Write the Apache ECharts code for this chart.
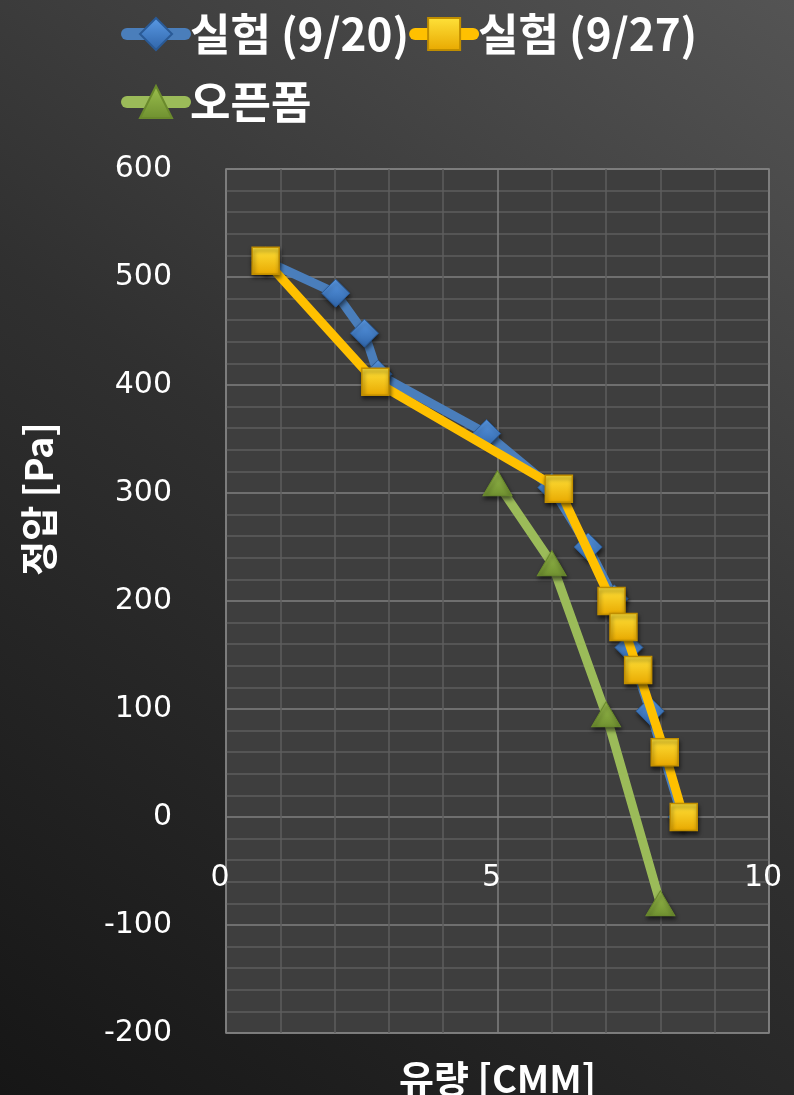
<!DOCTYPE html>
<html>
<head>
<meta charset="utf-8">
<script src="https://cdn.jsdelivr.net/npm/echarts@6/dist/echarts.min.js"></script>
<style>
html,body{margin:0;padding:0;background:#2a2a2a;}
#c{width:794px;height:1095px;}
</style>
</head>
<body>
<div id="c"></div>
<script>
// ---- data ----
const seriesNames = ['실험 (9/20)', '실험 (9/27)', '오픈폼'];
const flow0920 = [0.73, 2.02, 2.55, 2.8, 4.8, 6.0, 6.67, 7.15, 7.42, 7.81, 8.4];
const pres0920 = [515, 485, 448, 410, 355, 305, 250, 202, 157, 98, 0];
const flow0927 = [0.73, 2.75, 6.13, 7.1, 7.32, 7.59, 8.08, 8.43];
const pres0927 = [515, 403, 304, 200, 176, 136, 60, 0];
const flowOpen = [5.0, 6.0, 7.0, 8.0];
const presOpen = [309, 235, 95, -80];
const xTicks = [0, 5, 10];
const yTicks = [-200, -100, 0, 100, 200, 300, 400, 500, 600];
const xTitle = '유량 [CMM]';
const yTitle = '정압 [Pa]';

function pairs(xs, ys){ return xs.map((x,i)=>[x, ys[i]]); }

const chart = echarts.init(document.getElementById('c'), null, {renderer:'canvas'});
const font = 'Noto Sans CJK KR';
const shadow = {shadowBlur:4, shadowColor:'rgba(0,0,0,0.55)', shadowOffsetY:3, shadowOffsetX:1};

function grad(c1, c2){
  return {type:'linear', x:0, y:0, x2:0, y2:1, colorStops:[{offset:0,color:c1},{offset:1,color:c2}]};
}
const legendCommon = {itemGap:0, itemWidth:58, itemHeight:40, padding:0,
  lineStyle:{width:12, cap:'round'},
  textStyle:{color:'#ffffff', fontSize:44, fontWeight:'bold', fontFamily:font}};

const option = {
  backgroundColor: {type:'linear', x:1, y:0, x2:0, y2:1,
    colorStops:[{offset:0,color:'#545454'},{offset:0.5,color:'#303030'},{offset:1,color:'#161616'}]},
  animation:false,
  legend:[
    Object.assign({data:[seriesNames[0], seriesNames[1]], left:121, top:12}, legendCommon),
    Object.assign({data:[seriesNames[2]], left:121, top:80}, legendCommon)
  ],
  grid:{left:226, right:25, top:169, bottom:62, show:true, backgroundColor:'#3e3e3e', borderColor:'#858585', borderWidth:1.5,
        containLabel:false, outerBoundsMode:'none'},
  xAxis:{
    type:'value', min:xTicks[0], max:xTicks[xTicks.length-1], interval:5,
    name:xTitle, nameLocation:'middle', nameGap:27,
    nameTextStyle:{color:'#ffffff', fontSize:38, fontWeight:'bold', fontFamily:font},
    axisLine:{show:false}, axisTick:{show:false},
    axisLabel:{color:'#ffffff', fontSize:30, fontFamily:'DejaVu Sans', margin:-170, padding:[0,12,0,0]},
    splitLine:{show:true, lineStyle:{color:'#808080', width:1.5}},
    minorTick:{show:false, splitNumber:5},
    minorSplitLine:{show:true, lineStyle:{color:'#5e5e5e', width:1.5}}
  },
  yAxis:{
    type:'value', min:yTicks[0], max:yTicks[yTicks.length-1], interval:100,
    name:yTitle, nameLocation:'middle', nameGap:168, nameRotate:90,
    nameTextStyle:{color:'#ffffff', fontSize:38, fontWeight:'bold', fontFamily:font, padding:[0,0,0,204]},
    axisLine:{show:false}, axisTick:{show:false},
    axisLabel:{color:'#ffffff', fontSize:30, fontFamily:'DejaVu Sans', margin:54},
    splitLine:{show:true, lineStyle:{color:'#808080', width:1.5}},
    minorTick:{show:false, splitNumber:5},
    minorSplitLine:{show:true, lineStyle:{color:'#5e5e5e', width:1.5}}
  },
  series:[
    {name:seriesNames[0], type:'line', data:pairs(flow0920, pres0920),
     symbol:'diamond', symbolSize:28, z:2,
     lineStyle:{color:'#4a7ebb', width:9},
     itemStyle:Object.assign({color:grad('#5a9ae6','#2f64a8'), borderColor:'#2a5a96', borderWidth:1, opacity:1}, shadow)},
    {name:seriesNames[1], type:'line', data:pairs(flow0927, pres0927),
     symbol:'rect', symbolSize:27, z:3,
     lineStyle:{color:'#ffc000', width:9},
     itemStyle:Object.assign({color:grad('#ffe23a','#e8a800'), borderColor:'#c08e00', borderWidth:1.5, opacity:1}, shadow)},
    {name:seriesNames[2], type:'line', data:pairs(flowOpen, presOpen),
     symbol:'triangle', symbolSize:[29,25], z:4,
     lineStyle:{color:'#9bbb59', width:9},
     itemStyle:Object.assign({color:grad('#9cc04e','#6f9030'), borderColor:'#6a8a2c', borderWidth:1, opacity:1}, shadow)}
  ]
};
chart.setOption(option);
</script>
</body>
</html>
